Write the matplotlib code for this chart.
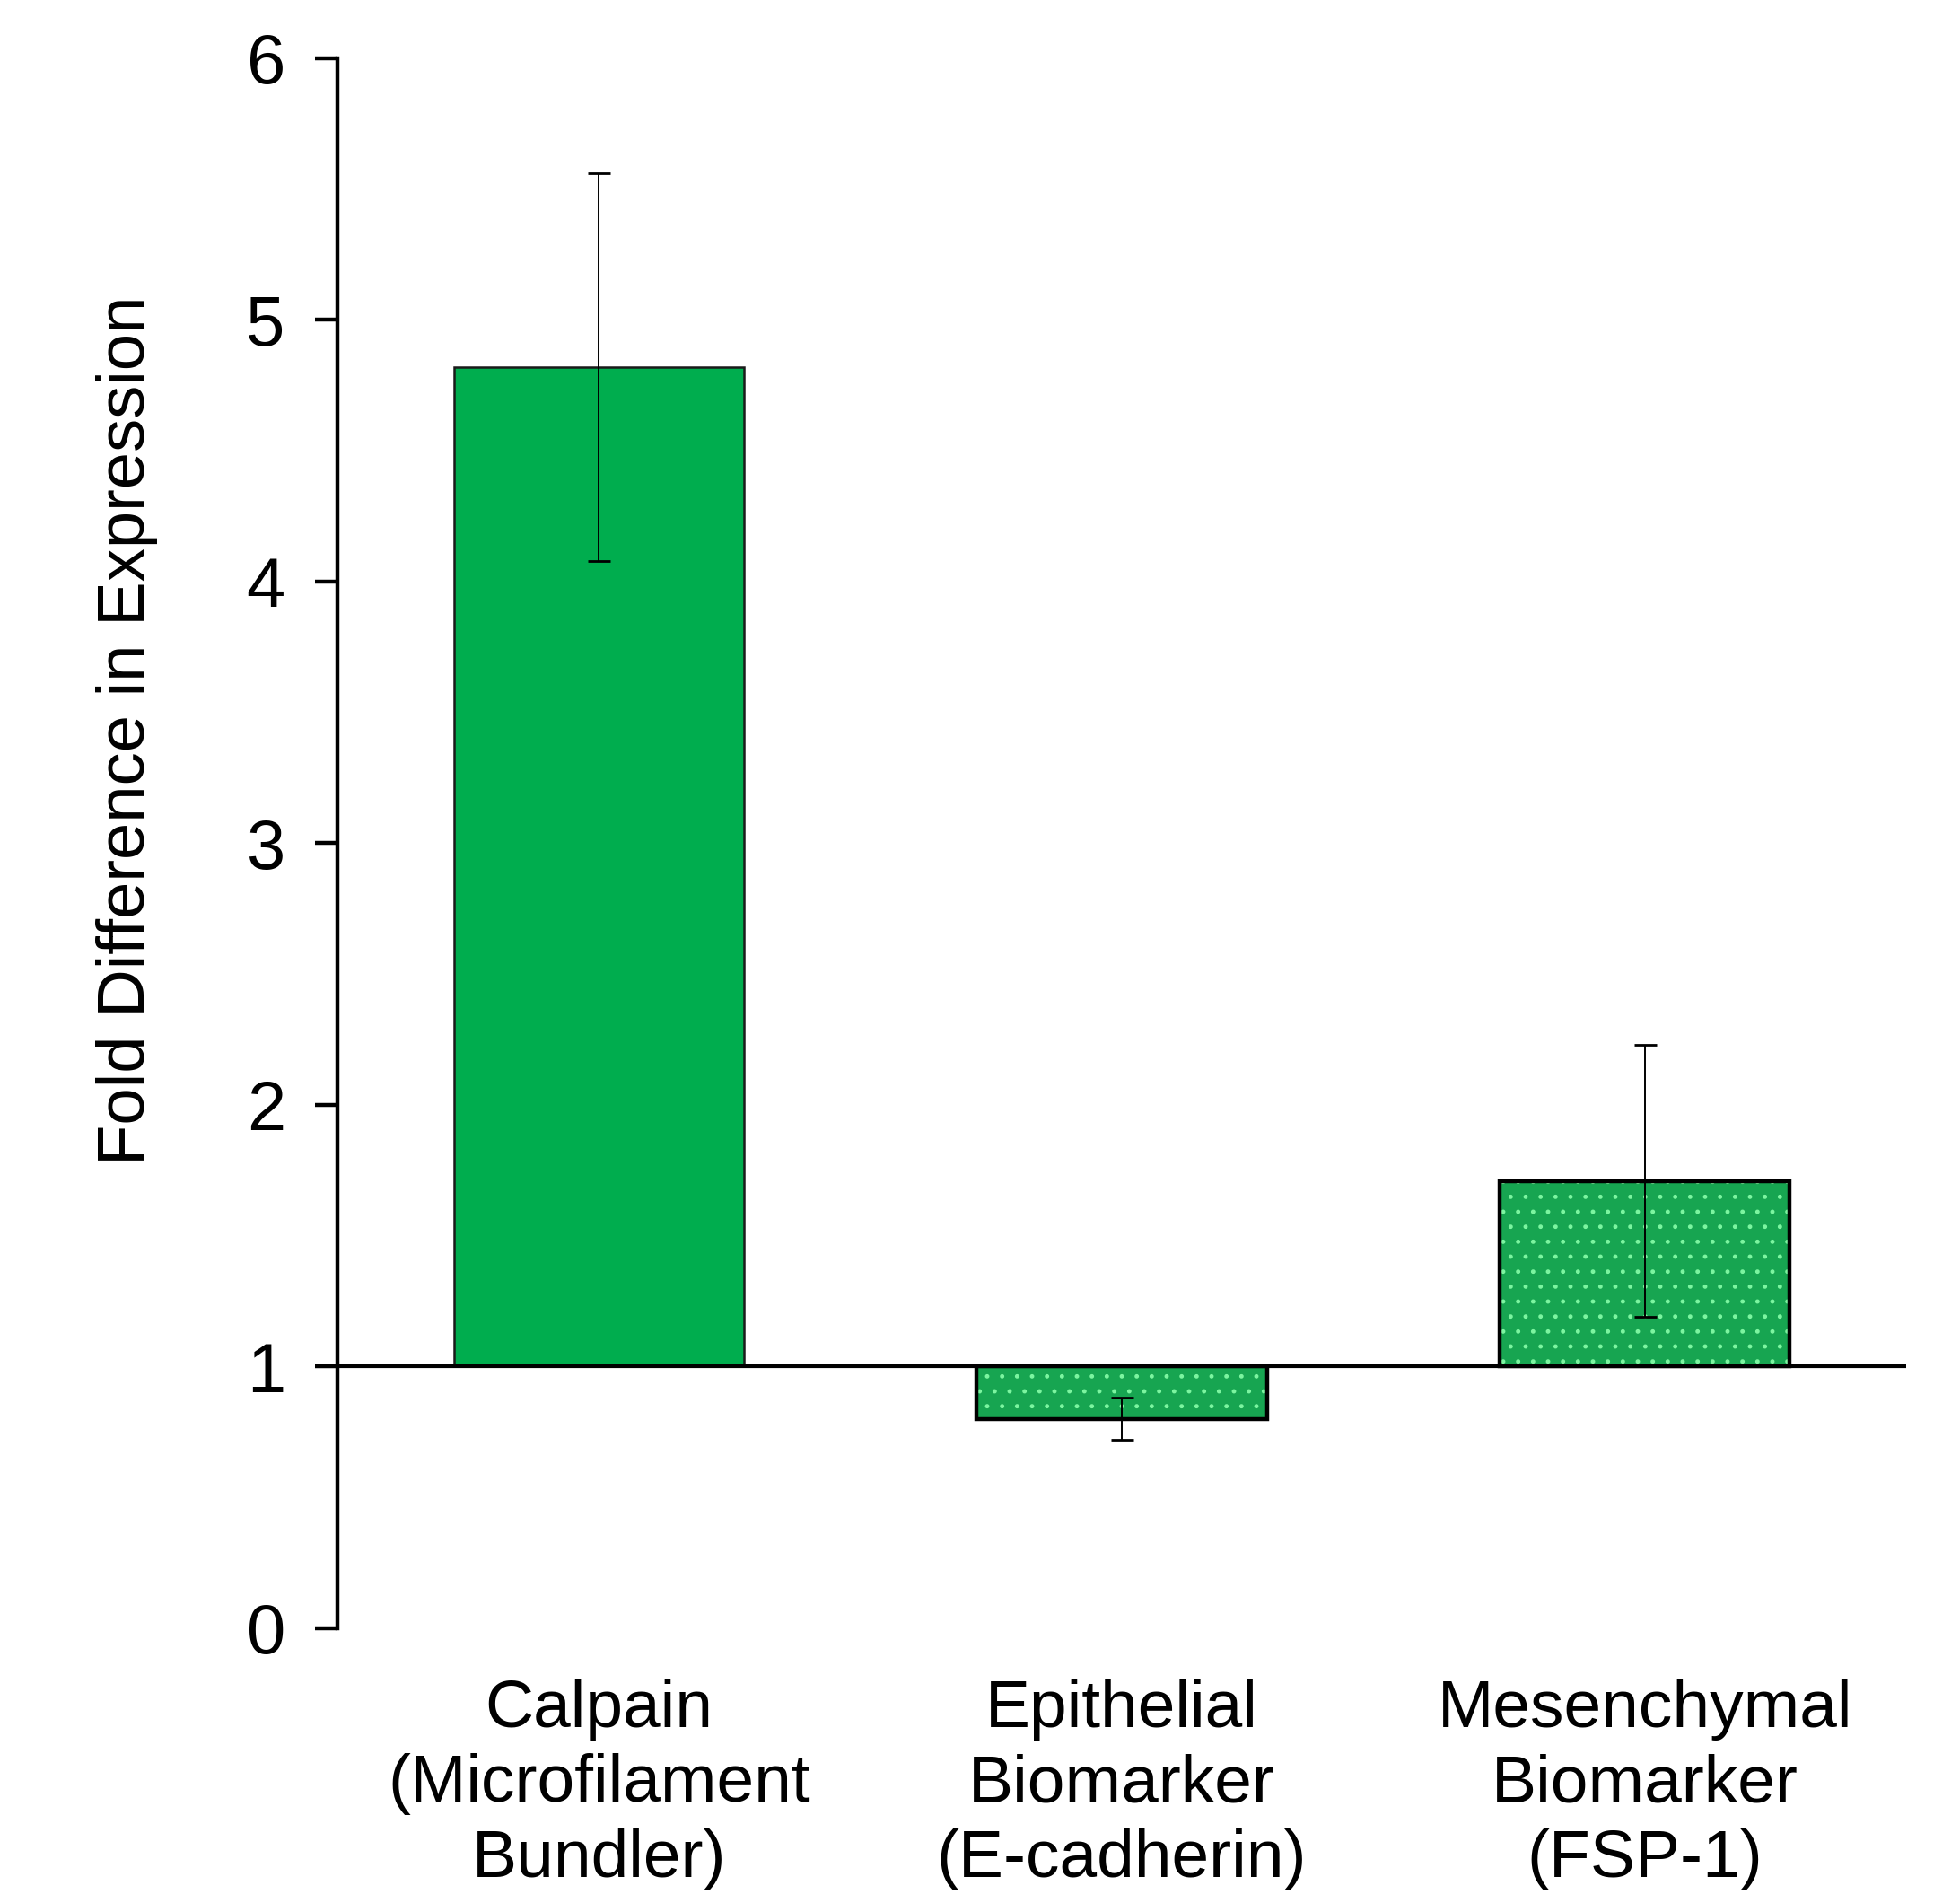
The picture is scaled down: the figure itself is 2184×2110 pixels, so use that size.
import numpy as np
import matplotlib
matplotlib.use("Agg")
import matplotlib.pyplot as plt

# values
labels = ["Calpain\n(Microfilament\nBundler)",
          "Epithelial\nBiomarker\n(E-cadherin)",
          "Mesenchymal\nBiomarker\n(FSP-1)"]
fold = [4.82, 0.80, 1.71]
err = [0.74, 0.08, 0.52]
yticks = [0, 1, 2, 3, 4, 5, 6]
baseline = 1.0

plt.rcParams['font.family'] = ['Liberation Sans', 'DejaVu Sans']
plt.rcParams['hatch.linewidth'] = 1.1

fig = plt.figure(figsize=(21.84, 21.10), dpi=100)
ax = fig.add_axes([0.1722, 0.1403, 0.8003, 0.8289])

x = np.arange(len(fold))
heights = np.array(fold) - baseline
w = 0.555

# plain bar
ax.bar(x[0], heights[0], bottom=baseline, width=w, color='#00ad4e',
       edgecolor='#1a1a1a', linewidth=1.8, zorder=2)
# dotted bars: fill + light dots, then black outline on top
ax.bar(x[1:], heights[1:], bottom=baseline, width=w, color='#17a551',
       edgecolor='#7cf5a0', hatch='.', linewidth=0, zorder=2)
ax.bar(x[1:], heights[1:], bottom=baseline, width=w, fill=False,
       edgecolor='black', linewidth=3.2, zorder=3)

ax.errorbar(x, fold, yerr=err, fmt='none', ecolor='black', elinewidth=1.4,
            capsize=9, capthick=2, zorder=4)
ax.axhline(baseline, color='black', linewidth=3, zorder=5)

ax.set_xlim(-0.5, 2.5)
ax.set_ylim(0, 6)
ax.set_yticks(yticks)
ax.set_xticks(x)
ax.set_xticklabels(labels, fontsize=54, linespacing=1.27)
ax.tick_params(axis='x', length=0, pad=40)
ax.tick_params(axis='y', labelsize=56, length=18, width=3.2, pad=24, direction='out')

for s in ['top', 'right', 'bottom']:
    ax.spines[s].set_visible(False)
ax.spines['left'].set_linewidth(3.2)
ax.spines['left'].set_bounds(0, 6)

ax.set_ylabel("Fold Difference in Expression", fontsize=53.5, va='center')
ax.yaxis.set_label_coords(-0.134, 0.572)

fig.savefig("out.png", dpi=100)
